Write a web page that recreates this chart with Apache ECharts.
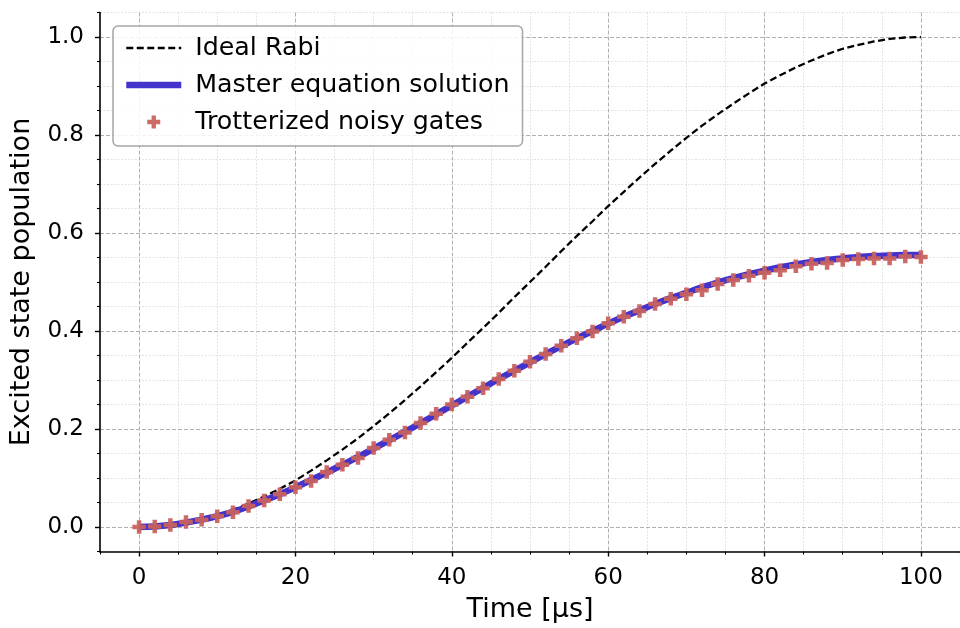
<!DOCTYPE html>
<html>
<head>
<meta charset="utf-8">
<script src="https://cdn.jsdelivr.net/npm/echarts@6/dist/echarts.min.js"></script>
<style>
  html, body { margin: 0; padding: 0; background: #ffffff; }
  #chart { width: 960px; height: 628px; }
</style>
</head>
<body>
<div id="chart"></div>
<script>
// Time samples in microseconds
const timeUs = [0, 2, 4, 6, 8, 10, 12, 14, 16, 18, 20, 22, 24, 26, 28, 30, 32, 34, 36, 38, 40,
  42, 44, 46, 48, 50, 52, 54, 56, 58, 60, 62, 64, 66, 68, 70, 72, 74, 76, 78, 80,
  82, 84, 86, 88, 90, 92, 94, 96, 98, 100];

// Excited state population, noiseless Rabi oscillation
const idealRabi = [0.000, 0.001, 0.004, 0.009, 0.016, 0.024, 0.035, 0.048, 0.062, 0.078, 0.095,
  0.115, 0.136, 0.158, 0.181, 0.206, 0.232, 0.259, 0.287, 0.316, 0.345,
  0.376, 0.406, 0.437, 0.469, 0.500, 0.531, 0.563, 0.594, 0.624, 0.655,
  0.684, 0.713, 0.741, 0.768, 0.794, 0.819, 0.842, 0.864, 0.885, 0.905,
  0.922, 0.938, 0.952, 0.965, 0.976, 0.984, 0.991, 0.996, 0.999, 1.000];

// Excited state population from the master equation
const masterEq = [0.000, 0.001, 0.004, 0.009, 0.015, 0.022, 0.031, 0.042, 0.054, 0.067, 0.081,
  0.096, 0.111, 0.127, 0.143, 0.160, 0.177, 0.194, 0.212, 0.230, 0.248,
  0.266, 0.284, 0.302, 0.319, 0.336, 0.353, 0.369, 0.385, 0.400, 0.415,
  0.429, 0.442, 0.455, 0.467, 0.478, 0.489, 0.499, 0.508, 0.516, 0.523,
  0.530, 0.536, 0.541, 0.545, 0.548, 0.551, 0.553, 0.554, 0.555, 0.555];

// Excited state population from trotterized noisy gates
const trotterGates = [0.000, 0.001, 0.004, 0.010, 0.015, 0.022, 0.030, 0.043, 0.054, 0.067, 0.081,
  0.094, 0.112, 0.127, 0.141, 0.161, 0.178, 0.193, 0.212, 0.231, 0.250,
  0.266, 0.283, 0.302, 0.319, 0.337, 0.353, 0.370, 0.385, 0.399, 0.416,
  0.429, 0.441, 0.455, 0.466, 0.475, 0.483, 0.496, 0.504, 0.513, 0.519,
  0.524, 0.532, 0.537, 0.539, 0.545, 0.547, 0.548, 0.548, 0.552, 0.551];

// Axis ticks
const xMajorTicks = [0, 20, 40, 60, 80, 100];
const xMinorTicks = [-5, 5, 10, 15, 25, 30, 35, 45, 50, 55, 65, 70, 75, 85, 90, 95, 105];
const yMajorTicks = [0, 0.2, 0.4, 0.6, 0.8, 1.0];
const yMinorTicks = [-0.05, 0.05, 0.1, 0.15, 0.25, 0.3, 0.35, 0.45, 0.5, 0.55, 0.65, 0.7, 0.75,
  0.85, 0.9, 0.95, 1.05];

const xRange = [-5, 105];
const yRange = [-0.05, 1.05];

const FONT = 'DejaVu Sans';
const pair = (ys) => timeUs.map((t, i) => [t, ys[i]]);

// filled plus marker
const plusPath = 'path://M-1,-3L1,-3L1,-1L3,-1L3,1L1,1L1,3L-1,3L-1,1L-3,1L-3,-1L-1,-1Z';

const majorGrid = { show: true, lineStyle: { color: '#b0b0b0', width: 1, type: [4, 2] } };
const minorGrid = { show: true, lineStyle: { color: '#dcdcdc', width: 0.8, type: [2, 1.5] } };

const chart = echarts.init(document.getElementById('chart'), null, { renderer: 'canvas' });

chart.setOption({
  animation: false,
  backgroundColor: '#ffffff',
  grid: { left: 100, right: 0, top: 12.5, bottom: 76.5, containLabel: false, outerBoundsMode: 'none' },
  legend: {
    orient: 'vertical',
    left: 113,
    top: 26,
    padding: [9.5, 13, 11.5, 10],
    itemWidth: 55,
    itemHeight: 13,
    itemGap: 12,
    backgroundColor: 'rgba(255,255,255,0.85)',
    borderColor: '#a6a6a6',
    borderWidth: 1.5,
    borderRadius: 5,
    lineStyle: { width: 'inherit', type: 'inherit' },
    textStyle: { fontFamily: FONT, fontSize: 25.3, color: '#000', lineHeight: 25, padding: [0, 0, 0, 9] },
    data: [
      { name: 'Ideal Rabi', itemStyle: { opacity: 0 } },
      { name: 'Master equation solution', itemStyle: { opacity: 0 } },
      { name: 'Trotterized noisy gates' }
    ]
  },
  xAxis: [
    {
      type: 'value', min: xRange[0], max: xRange[1], position: 'bottom',
      name: 'Time [µs]', nameLocation: 'middle', nameGap: 45,
      nameTextStyle: { fontFamily: FONT, fontSize: 27, color: '#000' },
      axisLine: { show: true, onZero: false, lineStyle: { color: '#000', width: 1.6 } },
      axisTick: { show: true, length: 5, lineStyle: { color: '#000', width: 1.4 }, customValues: xMajorTicks },
      axisLabel: { show: true, margin: 15, fontFamily: FONT, fontSize: 23, color: '#000', customValues: xMajorTicks,
        formatter: (v) => String(Math.round(v)) },
      splitLine: majorGrid,
      z: 2
    },
    {
      type: 'value', min: xRange[0], max: xRange[1], position: 'bottom',
      axisLine: { show: false, onZero: false },
      axisTick: { show: true, length: 3, lineStyle: { color: '#000', width: 1.1 }, customValues: xMinorTicks },
      axisLabel: { show: false },
      splitLine: minorGrid,
      z: 1
    }
  ],
  yAxis: [
    {
      type: 'value', min: yRange[0], max: yRange[1], position: 'left',
      name: 'Excited state population', nameLocation: 'middle', nameGap: 65,
      nameTextStyle: { fontFamily: FONT, fontSize: 27, color: '#000' },
      axisLine: { show: true, onZero: false, lineStyle: { color: '#000', width: 1.6 } },
      axisTick: { show: true, length: 5, lineStyle: { color: '#000', width: 1.4 }, customValues: yMajorTicks },
      axisLabel: { show: true, margin: 16, fontFamily: FONT, fontSize: 23, color: '#000', customValues: yMajorTicks,
        formatter: (v) => v.toFixed(1) },
      splitLine: majorGrid,
      z: 2
    },
    {
      type: 'value', min: yRange[0], max: yRange[1], position: 'left',
      axisLine: { show: false, onZero: false },
      axisTick: { show: true, length: 3, lineStyle: { color: '#000', width: 1.1 }, customValues: yMinorTicks },
      axisLabel: { show: false },
      splitLine: minorGrid,
      z: 1
    }
  ],
  series: [
    {
      name: 'Ideal Rabi', type: 'line', xAxisIndex: 0, yAxisIndex: 0,
      data: pair(idealRabi), symbol: 'none', showSymbol: false, smooth: false,
      lineStyle: { color: '#000000', width: 2.3, type: [7, 3.5] },
      itemStyle: { color: '#000000' },
      z: 3
    },
    {
      name: 'Master equation solution', type: 'line', xAxisIndex: 0, yAxisIndex: 0,
      data: pair(masterEq), symbol: 'none', showSymbol: false, smooth: true,
      lineStyle: { color: '#4432cc', width: 6.5 },
      itemStyle: { color: '#4432cc' },
      z: 4
    },
    {
      name: 'Trotterized noisy gates', type: 'scatter', xAxisIndex: 0, yAxisIndex: 0,
      data: pair(trotterGates), symbol: plusPath, symbolSize: 13.5,
      itemStyle: { color: '#c8625e', opacity: 0.95 },
      z: 5
    }
  ]
});
</script>
</body>
</html>
